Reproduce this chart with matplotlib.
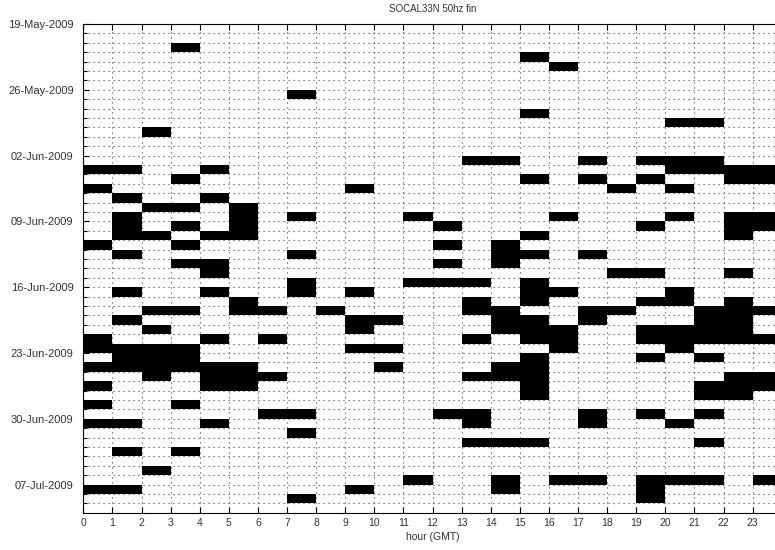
import datetime as dt

import matplotlib
matplotlib.use('Agg')
import matplotlib.pyplot as plt
import numpy as np

plt.rcParams['font.family'] = ['Liberation Sans', 'DejaVu Sans']

title = 'SOCAL33N 50hz fin'
start = dt.date(2009, 5, 19)
n_days = 52
hours = list(range(24))

# hours (GMT) with detections, one list per day starting 19-May-2009
day_hours = [
    [],                                   # 19-May
    [],
    [3],
    [15],
    [16],
    [],
    [],
    [7],                                  # 26-May
    [],
    [15],
    [20, 21],
    [2],
    [],
    [],
    [13, 14, 17, 19, 20, 21],             # 02-Jun
    [0, 1, 4, 20, 21, 22, 23],
    [3, 15, 17, 19, 22, 23],
    [0, 9, 18, 20],
    [1, 4],
    [2, 3, 5],
    [1, 5, 7, 11, 16, 20, 22, 23],
    [1, 3, 5, 12, 19, 22, 23],            # 09-Jun
    [1, 2, 4, 5, 15, 22],
    [0, 3, 12, 14],
    [1, 7, 14, 15, 17],
    [3, 4, 12, 14],
    [4, 18, 19, 22],
    [7, 11, 12, 13, 15],
    [1, 4, 7, 9, 15, 16, 20],             # 16-Jun
    [5, 13, 15, 19, 20, 22],
    [2, 3, 5, 6, 8, 13, 14, 17, 18, 21, 22, 23],
    [1, 9, 10, 14, 15, 17, 21, 22],
    [2, 9, 14, 15, 16, 19, 20, 21, 22],
    [0, 4, 6, 13, 15, 16, 19, 20, 21, 22, 23],
    [0, 1, 2, 3, 9, 10, 16, 20],
    [1, 2, 3, 15, 19, 21],                # 23-Jun
    [0, 1, 2, 3, 4, 5, 10, 14, 15],
    [2, 4, 5, 6, 13, 14, 15, 22, 23],
    [0, 4, 5, 15, 21, 22, 23],
    [15, 21, 22],
    [0, 3],
    [6, 7, 12, 13, 17, 19, 21],
    [0, 1, 4, 13, 17, 20],                # 30-Jun
    [7],
    [13, 14, 15, 21],
    [1, 3],
    [],
    [2],
    [11, 14, 16, 17, 19, 20, 21, 23],
    [0, 1, 9, 14, 19],                    # 07-Jul
    [7, 19],
    [],
]

presence = np.zeros((n_days, len(hours)))
for d, hrs in enumerate(day_hours):
    presence[d, hrs] = 1
presence = np.ma.masked_equal(presence, 0)

fig = plt.figure(figsize=(7.75, 5.5), dpi=100)
ax = fig.add_axes([83.3 / 775, 37.3 / 550, 698.4 / 775, 488.7 / 550])

ax.grid(True, which='both', linestyle=(0, (1, 3.5)), color='#444444', linewidth=0.8)
ax.set_axisbelow(True)
ax.pcolormesh(np.arange(25), np.arange(n_days + 1), presence,
              cmap='gray_r', vmin=0, vmax=1, zorder=2)

ax.set_xlim(0, 24)
ax.set_ylim(n_days, 0)

ax.set_xticks(hours)
ax.set_xticklabels([str(h) for h in hours])
week_days = list(range(0, n_days, 7))
ax.set_yticks(week_days)
ax.set_yticklabels([(start + dt.timedelta(days=d)).strftime('%d-%b-%Y')
                    for d in week_days])
ax.set_yticks([d for d in range(1, n_days) if d % 7], minor=True)
ax.tick_params(which='both', direction='in', top=True, right=True,
               labelsize=7.5, labelcolor='#333333', width=0.8)
ax.tick_params(axis='y', labelsize=8, pad=7)
ax.tick_params(which='major', length=4)
ax.tick_params(which='minor', length=3)

for s in ax.spines.values():
    s.set_linewidth(0.8)

ax.set_xlabel('hour (GMT)', fontsize=7.5, labelpad=3, color='#333333')
ax.set_title(title, fontsize=7, pad=9, color='#333333')

fig.savefig('out.png', dpi=100)
